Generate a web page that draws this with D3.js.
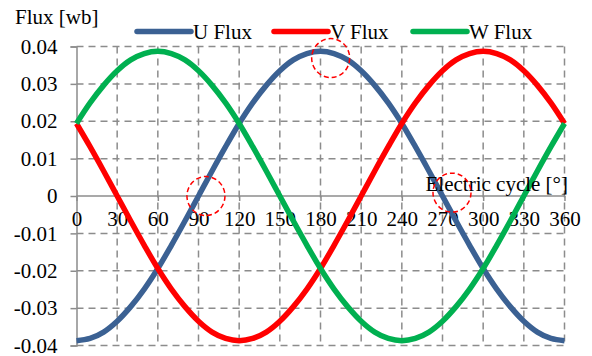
<!DOCTYPE html>
<html>
<head>
<meta charset="utf-8">
<script src="https://cdn.jsdelivr.net/npm/d3@7"></script>
<style>
  html, body { margin: 0; padding: 0; background: #fff; }
  svg { display: block; font-family: "Liberation Serif", "Times New Roman", serif; }
</style>
</head>
<body>
<svg id="chart" width="592" height="356"></svg>
<script>
// Electrical angle in degrees, every 10°
const angles = [0,10,20,30,40,50,60,70,80,90,100,110,120,130,140,150,160,170,180,
  190,200,210,220,230,240,250,260,270,280,290,300,310,320,330,340,350,360];

// Flux linkage per phase [Wb]
const uFlux = [-0.0387,-0.0381,-0.0364,-0.0335,-0.0296,-0.0249,-0.0194,-0.0132,-0.0067,0,
  0.0067,0.0132,0.0194,0.0249,0.0296,0.0335,0.0364,0.0381,0.0387,0.0381,0.0364,0.0335,
  0.0296,0.0249,0.0194,0.0132,0.0067,0,-0.0067,-0.0132,-0.0194,-0.0249,-0.0296,-0.0335,
  -0.0364,-0.0381,-0.0387];
const vFlux = [0.0194,0.0132,0.0067,0,-0.0067,-0.0132,-0.0194,-0.0249,-0.0296,-0.0335,
  -0.0364,-0.0381,-0.0387,-0.0381,-0.0364,-0.0335,-0.0296,-0.0249,-0.0194,-0.0132,-0.0067,
  0,0.0067,0.0132,0.0194,0.0249,0.0296,0.0335,0.0364,0.0381,0.0387,0.0381,0.0364,0.0335,
  0.0296,0.0249,0.0194];
const wFlux = [0.0194,0.0249,0.0296,0.0335,0.0364,0.0381,0.0387,0.0381,0.0364,0.0335,
  0.0296,0.0249,0.0194,0.0132,0.0067,0,-0.0067,-0.0132,-0.0194,-0.0249,-0.0296,-0.0335,
  -0.0364,-0.0381,-0.0387,-0.0381,-0.0364,-0.0335,-0.0296,-0.0249,-0.0194,-0.0132,-0.0067,
  0,0.0067,0.0132,0.0194];

const seriesNames = ["U Flux", "V Flux", "W Flux"];
const seriesColors = ["#3B6193", "#FF0000", "#00B050"];
const xTicks = [0,30,60,90,120,150,180,210,240,270,300,330,360];
const yTicks = [-0.04,-0.03,-0.02,-0.01,0,0.01,0.02,0.03,0.04];
const yTickLabels = ["-0.04","-0.03","-0.02","-0.01","0","0.01","0.02","0.03","0.04"];

// Highlighted spots on the U phase (angle °, flux Wb)
const markAngles = [95.5, 187.5, 277];
const markFlux = [0.0000, 0.0369, 0.0009];

const svg = d3.select("#chart");
const plotLeft = 76.5, plotRight = 564.5, plotTop = 46.5, plotBottom = 345.5;

const x = d3.scaleLinear().domain([0, 360]).range([plotLeft, plotRight]);
const y = d3.scaleLinear().domain([-0.04, 0.04]).range([plotBottom, plotTop]);

const gridColor = "#8C8C8C";
const fontSize = 21;

// dashed grid
svg.append("g").selectAll("line").data(yTicks).join("line")
  .attr("x1", plotLeft).attr("x2", plotRight)
  .attr("y1", d => y(d)).attr("y2", d => y(d))
  .attr("stroke", gridColor).attr("stroke-width", 1.5)
  .attr("stroke-dasharray", d => d === 0 ? null : "7,5");
svg.append("g").selectAll("line").data(xTicks.slice(1)).join("line")
  .attr("x1", d => x(d)).attr("x2", d => x(d))
  .attr("y1", plotTop).attr("y2", plotBottom)
  .attr("stroke", gridColor).attr("stroke-width", 1.5)
  .attr("stroke-dasharray", "7,5");

// value axis on the left
const yAxis = d3.axisLeft(y).tickValues(yTicks)
  .tickFormat((d, i) => yTickLabels[i]).tickSize(6).tickPadding(13);
const gy = svg.append("g").attr("transform", `translate(${plotLeft},0)`).call(yAxis);
gy.select(".domain").attr("stroke", gridColor).attr("stroke-width", 1.5);
gy.selectAll(".tick line").attr("stroke", gridColor).attr("stroke-width", 1.5);
gy.selectAll("text").attr("font-size", fontSize).attr("fill", "#000")
  .attr("font-family", "Liberation Serif, Times New Roman, serif");

// angle axis through zero
const xAxis = d3.axisBottom(x).tickValues(xTicks).tickSize(5).tickPadding(10);
const gx = svg.append("g").attr("transform", `translate(0,${y(0)})`).call(xAxis);
gx.select(".domain").remove();
gx.selectAll(".tick line").attr("stroke", gridColor).attr("stroke-width", 1.5);
gx.selectAll("text").attr("font-size", fontSize).attr("fill", "#000")
  .attr("font-family", "Liberation Serif, Times New Roman, serif");

// flux curves
const line = d3.line().x((d, i) => x(angles[i])).y(d => y(d)).curve(d3.curveCatmullRom);
[uFlux, vFlux, wFlux].forEach((s, k) => {
  svg.append("path").datum(s).attr("d", line)
    .attr("fill", "none").attr("stroke", seriesColors[k])
    .attr("stroke-width", 5.5).attr("stroke-linejoin", "round");
});

// axis titles
svg.append("text").attr("x", 15).attr("y", 24).attr("font-size", fontSize)
  .text("Flux [wb]");
svg.append("text").attr("x", 568).attr("y", 191).attr("font-size", fontSize)
  .attr("text-anchor", "end").text("Electric cycle [°]");

// dashed red rings around points of interest
svg.append("g").selectAll("ellipse").data(markAngles).join("ellipse")
  .attr("cx", d => x(d)).attr("cy", (d, i) => y(markFlux[i]))
  .attr("rx", 19).attr("ry", 19.5)
  .attr("fill", "none").attr("stroke", "#FF0000").attr("stroke-width", 1.5)
  .attr("stroke-dasharray", "5,3");

// legend
const legendX = [137, 274, 413];
seriesNames.forEach((n, k) => {
  const g = svg.append("g").attr("transform", `translate(${legendX[k]},31.5)`);
  g.append("line").attr("x1", 0).attr("x2", 54)
    .attr("stroke", seriesColors[k]).attr("stroke-width", 5.5).attr("stroke-linecap", "round");
  g.append("text").attr("x", 56).attr("y", 7).attr("font-size", fontSize).text(n);
});
</script>
</body>
</html>
